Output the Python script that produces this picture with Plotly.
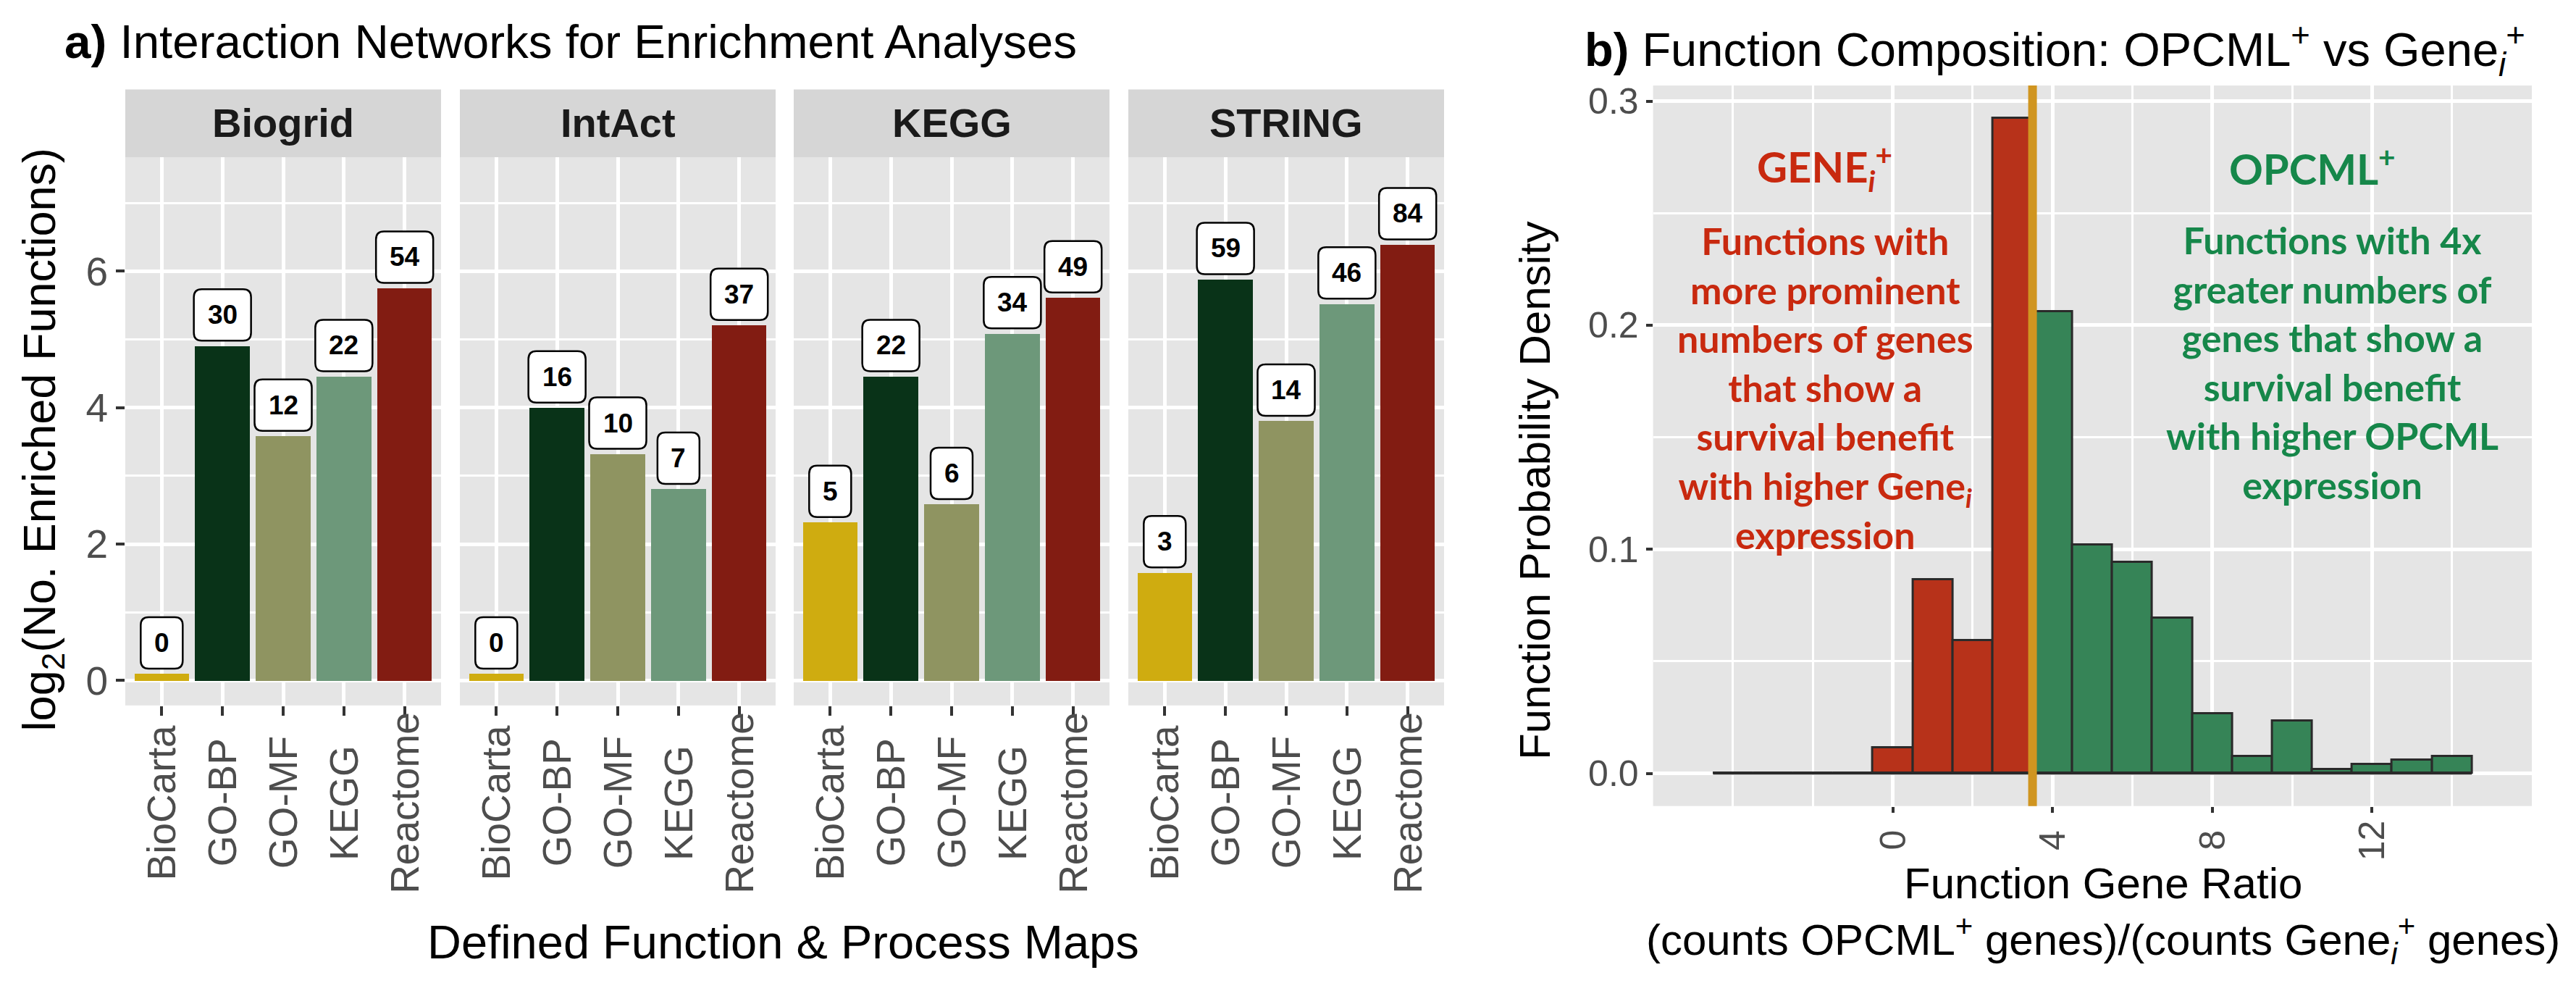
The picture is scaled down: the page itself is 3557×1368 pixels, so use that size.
import numpy as np
import plotly.graph_objects as go

W, H = 3557, 1368
PAGE = 8  # default body margin of the html page
FONT = "Liberation Sans, Arial, Helvetica, sans-serif"
NOTE_FONT = "Lato, Open Sans, sans-serif"

# ---- panel a data ----
networks = ["Biogrid", "IntAct", "KEGG", "STRING"]
maps = ["BioCarta", "GO-BP", "GO-MF", "KEGG", "Reactome"]
counts_biogrid = [0, 30, 12, 22, 54]
counts_intact = [0, 16, 10, 7, 37]
counts_kegg = [5, 22, 6, 34, 49]
counts_string = [3, 59, 14, 46, 84]
map_colors = ["#CFAC10", "#093318", "#8F9461", "#6D987A", "#821C12"]
zero_bar = 0.1  # height drawn for an empty category
y_ticks_a = [0, 2, 4, 6]

# ---- panel b data ----
ratio_bins = [-4, -3, -2, -1, 0, 1, 2, 3, 4, 5, 6, 7, 8, 9, 10, 11, 12, 13, 14]
ratio_density = [0, 0, 0, 0, 0.0115, 0.0864, 0.0594, 0.2925, 0.2060, 0.1019,
                 0.0941, 0.0692, 0.0268, 0.0077, 0.0233, 0.0019, 0.0039,
                 0.0059, 0.0077]
split_ratio = 3.5
ratio_ticks = [0, 4, 8, 12]
density_ticks = [0.0, 0.1, 0.2, 0.3]
density_labels = ["0.0", "0.1", "0.2", "0.3"]
red = "#B7321A"
green = "#368457"


def fx(p):
    return (p - PAGE) / W


def fy(p):
    return 1 - (p - PAGE) / H


def note(**kw):
    # centred, arrow-free text
    d = dict(showarrow=False, xanchor="center", yanchor="middle")
    d.update(kw)
    return d


def round_box(w, h, r, bottom):
    # rounded rectangle in pixels around the anchor (geom_label look)
    x0, x1 = -w / 2, w / 2
    y0, y1 = bottom, bottom + h
    return ("M{a},{y0} L{b},{y0} Q{x1},{y0} {x1},{c} L{x1},{d} "
            "Q{x1},{y1} {b},{y1} L{a},{y1} Q{x0},{y1} {x0},{d} "
            "L{x0},{c} Q{x0},{y0} {a},{y0} Z").format(
        a=x0 + r, b=x1 - r, c=y0 + r, d=y1 - r,
        x0=x0, x1=x1, y0=y0, y1=y1)


all_counts = [counts_biogrid, counts_intact, counts_kegg, counts_string]
facet_left = [173, 635, 1096, 1558]
facet_w = 436
box_h, box_gap = 71, 7

fig = go.Figure()
annotations = []
shapes = []

for i, (net, cnts) in enumerate(zip(networks, all_counts)):
    xa = "x" if i == 0 else "x%d" % (i + 1)
    heights = [np.log2(c) if c > 0 else zero_bar for c in cnts]
    fig.add_trace(go.Bar(x=maps, y=heights, width=0.9, marker_color=map_colors,
                         marker_line_width=0, xaxis=xa, yaxis="y",
                         showlegend=False))
    for m, h, c in zip(maps, heights, cnts):
        # count label: rounded white box + bold number
        shapes.append(dict(
            type="path", xref=xa, yref="y", xsizemode="pixel",
            ysizemode="pixel", xanchor=m, yanchor=h,
            path=round_box(21 * len(str(c)) + 37, box_h, 11, box_gap),
            fillcolor="white", line=dict(color="black", width=2.5),
            layer="above"))
        annotations.append(note(
            x=m, y=h, xref=xa, yref="y", text="<b>%d</b>" % c,
            yshift=box_gap + box_h / 2,
            font=dict(family=FONT, size=37, color="black")))
        # rotated tick labels, centred like ggplot
        annotations.append(note(
            x=m, y=fy(1107), xref=xa, yref="paper", text=m, textangle=-90,
            font=dict(family=FONT, size=55, color="#4D4D4D")))
    # facet strip
    shapes.append(dict(type="rect", xref=xa + " domain", yref="paper",
                       x0=0, x1=1, y0=fy(212), y1=fy(118),
                       fillcolor="#D6D6D6", line_width=0, layer="below"))
    annotations.append(note(x=0.5, y=fy(164), xref=xa + " domain", yref="paper",
                            text="<b>%s</b>" % net,
                            font=dict(family=FONT, size=56, color="#1A1A1A")))
    ax = dict(domain=[fx(facet_left[i]), fx(facet_left[i] + facet_w)],
              anchor="y", type="category", categoryorder="array",
              categoryarray=maps, range=[-0.6, 4.6], showticklabels=False,
              ticks="outside", ticklen=13, tickwidth=3.5, tickcolor="#333333",
              showgrid=True, gridcolor="white", gridwidth=5, zeroline=False,
              showline=False)
    fig.update_layout(**{("xaxis" if i == 0 else "xaxis%d" % (i + 1)): ax})

# ---- panel b ----
edges = [b - 0.5 for b in ratio_bins] + [ratio_bins[-1] + 0.5]
bin_colors = [red if b < split_ratio else green for b in ratio_bins]
fig.add_trace(go.Bar(x=ratio_bins, y=ratio_density, width=1,
                     marker=dict(color=bin_colors,
                                 line=dict(color="#2A2A2A", width=3)),
                     xaxis="x5", yaxis="y2", showlegend=False))
fig.add_trace(go.Scatter(x=[edges[0], edges[-1]], y=[0, 0], mode="lines",
                         line=dict(color="#2A2A2A", width=3.5),
                         xaxis="x5", yaxis="y2", showlegend=False,
                         hoverinfo="skip"))
shapes.append(dict(type="line", xref="x5", yref="y2 domain", x0=split_ratio,
                   x1=split_ratio, y0=0, y1=1, layer="above",
                   line=dict(color="#D09520", width=12)))

for t in ratio_ticks:
    annotations.append(note(
        x=t, y=fy(1159), xref="x5", yref="paper", text=str(t), textangle=-90,
        font=dict(family=FONT, size=50, color="#4D4D4D")))

red_txt = "#C8290F"
green_txt = "#16874A"
annotations += [
    note(x=-1.7, y=0.2705, xref="x5", yref="y2",
         text="<b>GENE<sub><i>i</i></sub><sup>+</sup></b>",
         font=dict(family=NOTE_FONT, size=58, color=red_txt)),
    note(x=10.5, y=0.271, xref="x5", yref="y2",
         text="<b>OPCML<sup>+</sup></b>",
         font=dict(family=NOTE_FONT, size=58, color=green_txt)),
    note(x=-1.68, y=0.1721, xref="x5", yref="y2",
         text=("<b>Functions with<br>more prominent<br>numbers of genes<br>"
               "that show a<br>survival benefit<br>with higher Gene<sub><i>i</i></sub>"
               "<br>expression</b>"),
         align="center",
         font=dict(family=NOTE_FONT, size=52, color=red_txt)),
    note(x=11.0, y=0.1835, xref="x5", yref="y2",
         text=("<b>Functions with 4x<br>greater numbers of<br>genes that show a<br>"
               "survival benefit<br>with higher OPCML<br>expression</b>"),
         align="center",
         font=dict(family=NOTE_FONT, size=52, color=green_txt)),
]

# ---- titles ----
annotations += [
    note(x=fx(87), y=fy(52), xref="paper", yref="paper", xanchor="left",
         text="<b>a)</b> Interaction Networks for Enrichment Analyses",
         font=dict(family=FONT, size=65.5, color="black")),
    note(x=fx(2186), y=fy(63), xref="paper", yref="paper", xanchor="left",
         text=("<b>b)</b> Function Composition: OPCML<sup>+</sup> vs "
               "Gene<sub><i>i</i></sub><sup>+</sup>"),
         font=dict(family=FONT, size=65, color="black")),
    note(x=fx(58), y=fy(604), xref="paper", yref="paper", textangle=-90,
         text="log<sub>2</sub>(No. Enriched Functions)",
         font=dict(family=FONT, size=63, color="black")),
    note(x=fx(1081), y=fy(1300), xref="paper", yref="paper",
         text="Defined Function &amp; Process Maps",
         font=dict(family=FONT, size=65, color="black")),
    note(x=fx(2119), y=fy(674), xref="paper", yref="paper", textangle=-90,
         text="Function Probability Density",
         font=dict(family=FONT, size=60, color="black")),
    note(x=fx(2904), y=fy(1262), xref="paper", yref="paper",
         text=("Function Gene Ratio<br>(counts OPCML<sup>+</sup> genes)/"
               "(counts Gene<sub><i>i</i></sub><sup>+</sup> genes)"),
         font=dict(family=FONT, size=60, color="black")),
]

fig.update_layout(
    width=W, height=H, autosize=False,
    margin=dict(l=0, r=0, t=0, b=0),
    paper_bgcolor="white", plot_bgcolor="#E5E5E5",
    font=dict(family=FONT),
    bargap=0,
    yaxis=dict(domain=[fy(972), fy(211.5)], anchor="x", range=[-0.364, 7.675],
               tickvals=y_ticks_a, ticks="outside", ticklen=12, tickwidth=3.5,
               tickcolor="#333333",
               tickfont=dict(family=FONT, size=55, color="#4D4D4D"),
               showgrid=True, gridcolor="white", gridwidth=5, zeroline=False,
               minor=dict(dtick=1, tick0=0, showgrid=True, gridcolor="white",
                          gridwidth=2.5)),
    xaxis5=dict(domain=[fx(2282.6), fx(3496)], anchor="y2", range=[-6, 16],
                tickvals=ratio_ticks, showticklabels=False, ticks="outside",
                ticklen=8, tickwidth=3.5, tickcolor="#333333",
                showgrid=True, gridcolor="white", gridwidth=5, zeroline=False,
                minor=dict(dtick=2, tick0=0, showgrid=True, gridcolor="white",
                           gridwidth=2.5)),
    yaxis2=dict(domain=[fy(1111.5), fy(112.5)], anchor="x5",
                range=[-0.0146, 0.307], tickvals=density_ticks,
                ticktext=density_labels, ticks="outside", ticklen=9,
                tickwidth=3.5, tickcolor="#333333",
                tickfont=dict(family=FONT, size=50, color="#4D4D4D"),
                showgrid=True, gridcolor="white", gridwidth=5, zeroline=False,
                minor=dict(dtick=0.05, tick0=0, showgrid=True,
                           gridcolor="white", gridwidth=2.5)),
    annotations=annotations,
    shapes=shapes,
)

fig.write_html("out.html")
